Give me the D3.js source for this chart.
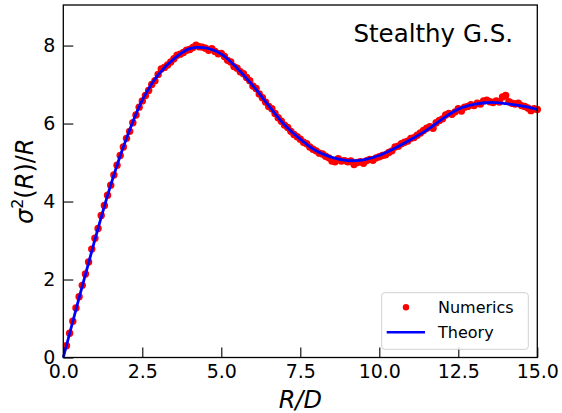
<!DOCTYPE html>
<html>
<head>
<meta charset="utf-8">
<script src="https://cdn.jsdelivr.net/npm/d3@7"></script>
<style>
  html, body { margin: 0; padding: 0; background: #fff; }
  svg { display: block; font-family: "DejaVu Sans", sans-serif; }
</style>
</head>
<body>
<svg id="chart" width="562" height="413"></svg>
<script>
// ---- data ----
const numericsR = d3.range(1, 151).map(i => +(i * 0.1).toFixed(1));
const numericsV = [
  0.30, 0.62, 0.93, 1.27, 1.56, 1.85, 2.14, 2.45, 2.78, 3.06,
  3.31, 3.64, 3.90, 4.16, 4.42, 4.68, 4.93, 5.18, 5.40, 5.62,
  5.80, 6.02, 6.22, 6.42, 6.58, 6.72, 6.85, 7.00, 7.10, 7.26,
  7.40, 7.44, 7.50, 7.58, 7.66, 7.75, 7.78, 7.82, 7.88, 7.90,
  7.95, 8.01, 7.97, 7.96, 7.93, 7.88, 7.92, 7.85, 7.79, 7.80,
  7.72, 7.62, 7.58, 7.46, 7.42, 7.33, 7.28, 7.18, 7.10, 6.96,
  6.90, 6.76, 6.66, 6.55, 6.44, 6.38, 6.26, 6.15, 6.06, 5.96,
  5.90, 5.80, 5.72, 5.66, 5.60, 5.52, 5.48, 5.40, 5.34, 5.30,
  5.24, 5.22, 5.16, 5.12, 5.04, 5.02, 5.10, 5.04, 5.05, 5.02,
  5.04, 4.95, 5.00, 5.02, 4.98, 5.05, 5.08, 5.06, 5.12, 5.15,
  5.18, 5.20, 5.26, 5.30, 5.40, 5.42, 5.48, 5.52, 5.55, 5.62,
  5.64, 5.70, 5.76, 5.82, 5.88, 5.92, 5.88, 6.02, 6.08, 6.12,
  6.22, 6.26, 6.24, 6.30, 6.38, 6.32, 6.42, 6.44, 6.48, 6.46,
  6.52, 6.50, 6.58, 6.60, 6.56, 6.54, 6.58, 6.55, 6.68, 6.72,
  6.56, 6.52, 6.50, 6.52, 6.46, 6.44, 6.40, 6.33, 6.38, 6.36
];
const theoryR = [0, 0.5, 1, 1.5, 2, 2.5, 3, 3.5, 4, 4.5, 5, 5.5, 6, 6.5, 7, 7.5,
                 8, 8.5, 9, 9.5, 10, 10.5, 11, 11.5, 12, 12.5, 13, 13.5, 14, 14.5, 15];
const theoryV = [0, 1.53, 3.02, 4.42, 5.62, 6.60, 7.25, 7.66, 7.92, 7.94, 7.78, 7.42,
                 6.97, 6.46, 5.97, 5.60, 5.30, 5.13, 5.05, 5.07, 5.18, 5.37, 5.59,
                 5.83, 6.12, 6.37, 6.49, 6.54, 6.51, 6.45, 6.36];
const xTicks = [0, 2.5, 5, 7.5, 10, 12.5, 15];
const yTicks = [0, 2, 4, 6, 8];

// ---- layout ----
const svg = d3.select("#chart");
const x = d3.scaleLinear().domain([0, 15]).range([63.3, 537.3]);
const y = d3.scaleLinear().domain([0, 9.04]).range([357.5, 5]);

// numerics
svg.append("g").selectAll("circle")
  .data(numericsR.map((r, i) => [r, numericsV[i]]))
  .join("circle")
  .attr("cx", d => x(d[0]))
  .attr("cy", d => y(d[1]))
  .attr("r", 3.7)
  .attr("fill", "#ff0000");

// theory
svg.append("path")
  .datum(theoryR.map((r, i) => [r, theoryV[i]]))
  .attr("fill", "none")
  .attr("stroke", "#0000ff")
  .attr("stroke-width", 2.8)
  .attr("d", d3.line().x(d => x(d[0])).y(d => y(d[1])).curve(d3.curveCatmullRom.alpha(0.5)));

// axes (ticks inward)
const xAxis = svg.append("g")
  .attr("transform", `translate(0,${y(0)})`)
  .call(d3.axisBottom(x).tickValues(xTicks).tickFormat(d3.format(".1f"))
        .tickSizeInner(-10).tickSizeOuter(0).tickPadding(7));
const yAxis = svg.append("g")
  .attr("transform", `translate(${x(0)},0)`)
  .call(d3.axisLeft(y).tickValues(yTicks).tickFormat(d3.format("d"))
        .tickSizeInner(-10).tickSizeOuter(0).tickPadding(8));
[xAxis, yAxis].forEach(g => {
  g.select(".domain").remove();
  g.selectAll("line").attr("stroke", "#000").attr("stroke-width", 1.1);
  g.selectAll("text").attr("fill", "#000").attr("font-size", 19)
    .attr("font-family", "DejaVu Sans, sans-serif");
});

// frame
svg.append("rect")
  .attr("x", x(0)).attr("y", y(9.04))
  .attr("width", x(15) - x(0)).attr("height", y(0) - y(9.04))
  .attr("fill", "none").attr("stroke", "#000").attr("stroke-width", 1.3);

// axis labels
svg.append("text")
  .attr("x", (x(0) + x(15)) / 2).attr("y", 408)
  .attr("text-anchor", "middle").attr("font-size", 24)
  .attr("font-style", "italic")
  .text("R/D");

const yl = svg.append("text")
  .attr("transform", `translate(33,${(y(0) + y(9.04)) / 2}) rotate(-90)`)
  .attr("text-anchor", "middle").attr("font-size", 24);
yl.append("tspan").attr("font-style", "italic").text("σ");
yl.append("tspan").attr("font-size", 16).attr("dy", -10).text("2");
yl.append("tspan").attr("dy", 10).text("(");
yl.append("tspan").attr("font-style", "italic").text("R");
yl.append("tspan").text(")/");
yl.append("tspan").attr("font-style", "italic").text("R");

// annotation
svg.append("text")
  .attr("x", 513).attr("y", 42)
  .attr("text-anchor", "end").attr("font-size", 24.5)
  .text("Stealthy G.S.");

// legend
const lg = svg.append("g");
lg.append("rect")
  .attr("x", 381.7).attr("y", 292.7).attr("width", 146.6).attr("height", 56.6)
  .attr("rx", 3).attr("fill", "#fff").attr("fill-opacity", 0.8)
  .attr("stroke", "#d0d0d0").attr("stroke-width", 1);
lg.append("circle").attr("cx", 406).attr("cy", 307.3).attr("r", 3.2).attr("fill", "#ff0000");
lg.append("text").attr("x", 438).attr("y", 307.3).attr("dy", "0.35em")
  .attr("font-size", 16).text("Numerics");
lg.append("line").attr("x1", 386.7).attr("x2", 425).attr("y1", 332.3).attr("y2", 332.3)
  .attr("stroke", "#0000ff").attr("stroke-width", 2.6);
lg.append("text").attr("x", 438).attr("y", 332.3).attr("dy", "0.35em")
  .attr("font-size", 16).text("Theory");
</script>
</body>
</html>
